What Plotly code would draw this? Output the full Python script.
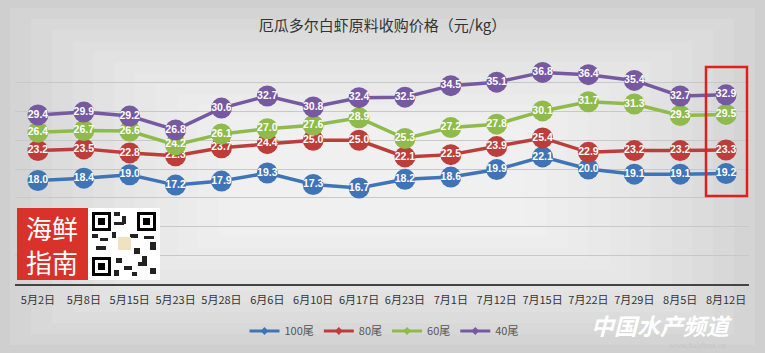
import plotly.graph_objects as go

categories = ["5月2日", "5月8日", "5月15日", "5月23日", "5月28日", "6月6日", "6月10日", "6月17日",
              "6月23日", "7月1日", "7月12日", "7月15日", "7月22日", "7月29日", "8月5日", "8月12日"]
s100 = [18.0, 18.4, 19.0, 17.2, 17.9, 19.3, 17.3, 16.7, 18.2, 18.6, 19.9, 22.1, 20.0, 19.1, 19.1, 19.2]
s80 = [23.2, 23.5, 22.8, 22.3, 23.7, 24.4, 25.0, 25.0, 22.1, 22.5, 23.9, 25.4, 22.9, 23.2, 23.2, 23.3]
s60 = [26.4, 26.7, 26.6, 24.2, 26.1, 27.0, 27.6, 28.9, 25.3, 27.2, 27.8, 30.1, 31.7, 31.3, 29.3, 29.5]
s40 = [29.4, 29.9, 29.2, 26.8, 30.6, 32.7, 30.8, 32.4, 32.5, 34.5, 35.1, 36.8, 36.4, 35.4, 32.7, 32.9]
series_names = ["100尾", "80尾", "60尾", "40尾"]
series_values = [s100, s80, s60, s40]
colors = ["#3f75b6", "#bd3d3b", "#8fba4c", "#7659a1"]

W, H = 765, 353
L, R, T, B = 15, 749, 54, 284  # plot area in pixels
def px(x):
    return (x - L) / (R - L)
def py(y):
    return (B - y) / (B - T)

fig = go.Figure()
for name, vals, c in zip(series_names, series_values, colors):
    fig.add_trace(go.Scatter(
        x=categories, y=vals, name=name, mode="lines+markers+text", showlegend=False,
        line=dict(color=c, width=3.5),
        marker=dict(color=c, size=21, line=dict(width=0)),
        text=[f"{v:.1f}" for v in vals], textposition="middle center",
        textfont=dict(color="white", size=10.5, family="Liberation Sans, Arial", weight="bold"),
        cliponaxis=False,
    ))
for name, c in zip(series_names, colors):
    fig.add_trace(go.Scatter(
        x=[None], y=[None], name=name, mode="lines+markers",
        line=dict(color=c, width=3), marker=dict(color=c, size=6, symbol="diamond"),
    ))

shapes = []
# background gradient layers
for i in range(12):
    f = i / 12
    x0 = 10 + 250 * f
    x1 = 755 - 250 * f
    y0 = 8 + 130 * f
    y1 = 345 - 130 * f
    shapes.append(dict(type="rect", xref="paper", yref="paper", layer="below",
                       x0=px(x0), x1=px(x1), y0=py(y1), y1=py(y0),
                       fillcolor="white", opacity=0.11, line=dict(width=0)))
# logo
shapes.append(dict(type="rect", xref="paper", yref="paper", x0=px(17), x1=px(88), y0=py(280), y1=py(208),
                   fillcolor="#d9322b", line=dict(width=0)))
shapes.append(dict(type="rect", xref="paper", yref="paper", x0=px(88), x1=px(160), y0=py(280), y1=py(208),
                   fillcolor="white", line=dict(width=0)))
# QR finder patterns
for (qx, qy) in [(92, 212), (137, 212), (92, 257)]:
    shapes.append(dict(type="rect", xref="paper", yref="paper", x0=px(qx), x1=px(qx + 19), y0=py(qy + 19), y1=py(qy),
                       fillcolor="black", line=dict(width=0)))
    shapes.append(dict(type="rect", xref="paper", yref="paper", x0=px(qx + 3), x1=px(qx + 16), y0=py(qy + 16), y1=py(qy + 3),
                       fillcolor="white", line=dict(width=0)))
    shapes.append(dict(type="rect", xref="paper", yref="paper", x0=px(qx + 6), x1=px(qx + 13), y0=py(qy + 13), y1=py(qy + 6),
                       fillcolor="black", line=dict(width=0)))
qr_blocks = [(114, 212, 6, 4), (122, 216, 4, 8), (114, 222, 10, 3), (92, 234, 6, 4), (100, 238, 8, 3), (112, 232, 4, 6),
             (130, 234, 8, 4), (144, 236, 10, 3), (150, 242, 6, 8), (96, 246, 10, 4), (134, 248, 6, 6), (142, 256, 5, 10),
             (116, 258, 6, 5), (124, 266, 8, 4), (150, 268, 6, 6), (114, 270, 5, 6), (132, 272, 5, 4), (138, 262, 4, 4)]
for (bx, by, bw, bh) in qr_blocks:
    shapes.append(dict(type="rect", xref="paper", yref="paper", x0=px(bx), x1=px(bx + bw), y0=py(by + bh), y1=py(by),
                       fillcolor="#222", line=dict(width=0)))
shapes.append(dict(type="rect", xref="paper", yref="paper", x0=px(118), x1=px(131), y0=py(250), y1=py(237),
                   fillcolor="#f0e2c0", line=dict(width=0)))
# highlight box
shapes.append(dict(type="rect", xref="paper", yref="paper", x0=px(706), x1=px(747), y0=py(196), y1=py(67),
                   line=dict(color="#e0201c", width=2.5)))

annotations = [
    dict(text="海鲜<br>指南", xref="paper", yref="paper", x=px(52), y=py(244), xanchor="center", yanchor="middle",
         showarrow=False, font=dict(color="white", size=26, family="Noto Sans CJK SC"), align="center"),
    dict(text="<i><b>中国水产频道</b></i>", xref="paper", yref="paper", x=px(662), y=py(325), xanchor="center",
         yanchor="middle", showarrow=False, font=dict(color="white", size=23, family="Noto Sans CJK SC")),
    dict(text="www.fishfirst.cn", xref="paper", yref="paper", x=px(698), y=py(346), xanchor="center",
         yanchor="middle", showarrow=False, font=dict(color="#c4c4c4", size=7, family="DejaVu Serif")),
]

fig.update_layout(
    width=W, height=H, margin=dict(l=L, r=W - R, t=T, b=H - B, autoexpand=False),
    paper_bgcolor="#cfcfcf", plot_bgcolor="rgba(0,0,0,0)",
    title=dict(text="厄瓜多尔白虾原料收购价格（元/kg）", x=0.5, xref="container", xanchor="center",
               yref="container", y=1 - 26 / H, yanchor="middle",
               font=dict(size=15, color="#333333", family="Noto Sans CJK SC")),
    xaxis=dict(type="category", range=[-0.5, 15.5], showgrid=False, showline=True, linecolor="#444444", linewidth=2,
               tickfont=dict(size=11, color="#333333", family="Noto Sans CJK SC"), ticks="", ticklabelstandoff=5,
               fixedrange=True),
    yaxis=dict(range=[0, 40], dtick=5, showgrid=True, gridcolor="#c8c8c8", gridwidth=1, showticklabels=False,
               zeroline=False, fixedrange=True),
    legend=dict(orientation="h", x=px(384), xanchor="center", y=py(331), yanchor="middle",
                font=dict(size=11, color="#555555", family="Noto Sans CJK SC"), bgcolor="rgba(0,0,0,0)",
                traceorder="normal"),
    shapes=shapes, annotations=annotations, showlegend=True,
)
fig.write_html("out.html")
